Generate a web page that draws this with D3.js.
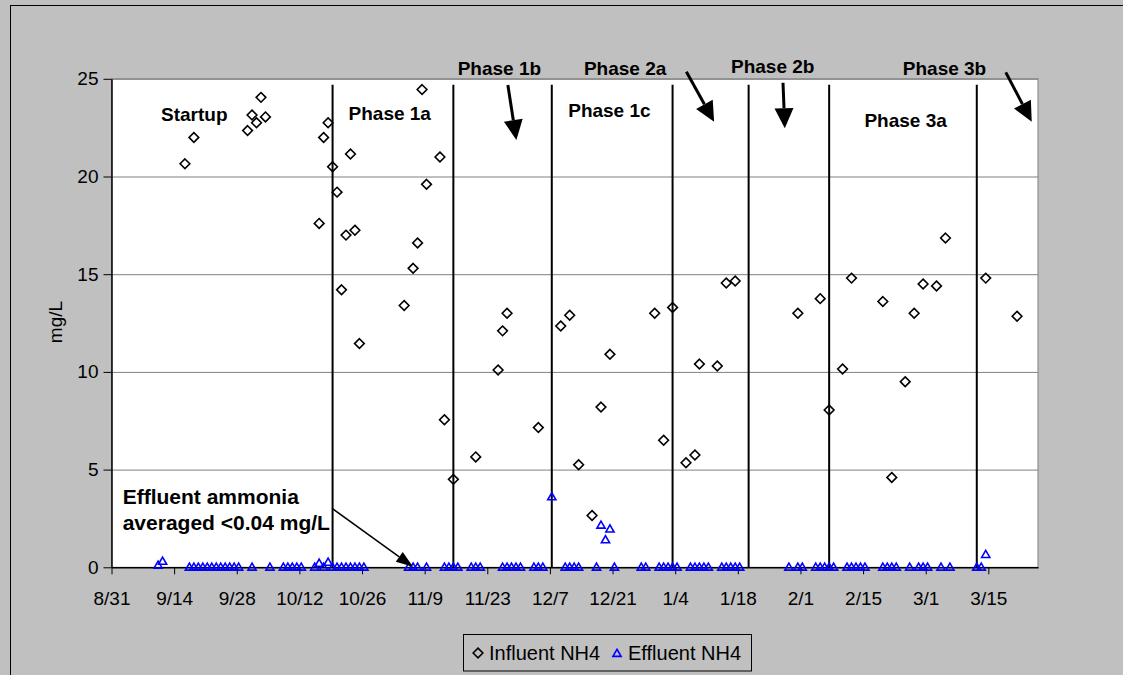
<!DOCTYPE html>
<html>
<head>
<meta charset="utf-8">
<script src="https://cdn.jsdelivr.net/npm/d3@7.9.0/dist/d3.min.js"></script>
<style>
  body { margin: 0; background: #c0c0c0; }
  svg { display: block; font-family: "Liberation Sans", Arial, sans-serif; }
</style>
</head>
<body>
<svg id="chart" width="1123" height="675"></svg>
<script>
// samples were logged mid-morning, so each point sits a bit right of its date tick
const SAMPLE_HOUR = 10;

const tickDates = ['8/31', '9/14', '9/28', '10/12', '10/26', '11/9', '11/23', '12/7',
  '12/21', '1/4', '1/18', '2/1', '2/15', '3/1', '3/15'];
const yTicks = [0, 5, 10, 15, 20, 25];

const influentDates = [
  '9/16', '9/18', '9/30', '10/1', '10/2', '10/3', '10/4',
  '10/16', '10/17', '10/18', '10/19', '10/20', '10/21', '10/22', '10/23', '10/24', '10/25',
  '11/4', '11/6', '11/7', '11/8', '11/9', '11/12', '11/13', '11/15', '11/20', '11/25', '11/26', '11/27',
  '12/4', '12/9', '12/11', '12/13', '12/16', '12/18', '12/20', '12/30',
  '1/1', '1/3', '1/6', '1/8', '1/9', '1/13', '1/15', '1/17', '1/31',
  '2/5', '2/7', '2/10', '2/12', '2/19', '2/21', '2/24', '2/26', '2/28',
  '3/3', '3/5', '3/14', '3/21'
];
const influentValues = [
  20.65, 22.0, 22.35, 23.15, 22.75, 24.05, 23.05,
  17.6, 22.0, 22.75, 20.5, 19.2, 14.2, 17.0, 21.15, 17.25, 11.45,
  13.4, 15.3, 16.6, 24.45, 19.6, 21.0, 7.55, 4.5, 5.65, 10.1, 12.1, 13.0,
  7.15, 12.35, 12.9, 5.25, 2.65, 8.2, 10.9, 13.0,
  6.5, 13.3, 5.35, 5.75, 10.4, 10.3, 14.55, 14.65, 13.0,
  13.75, 8.05, 10.15, 14.8, 13.6, 4.6, 9.5, 13.0, 14.5,
  14.4, 16.85, 14.8, 12.85
];

const effluentDates = [
  '9/10', '9/11', '9/17', '9/18', '9/19', '9/20', '9/21', '9/22', '9/23', '9/24', '9/25', '9/26', '9/27', '9/28',
  '10/1', '10/5', '10/8', '10/9', '10/10', '10/11', '10/12', '10/15', '10/16', '10/17', '10/18',
  '10/19', '10/20', '10/21', '10/22', '10/23', '10/24', '10/25', '10/26',
  '11/5', '11/6', '11/7', '11/9', '11/13', '11/14', '11/15', '11/16', '11/19', '11/20', '11/21',
  '11/26', '11/27', '11/28', '11/29', '11/30',
  '12/3', '12/4', '12/5', '12/7', '12/10', '12/11', '12/12', '12/13', '12/17', '12/18', '12/19', '12/20',
  '12/21', '12/27', '12/28', '12/31',
  '1/1', '1/2', '1/3', '1/4', '1/7', '1/8', '1/9', '1/10', '1/11', '1/14', '1/15', '1/16', '1/17', '1/18',
  '1/29', '1/31',
  '2/1', '2/4', '2/5', '2/6', '2/7', '2/8', '2/11', '2/12', '2/13', '2/14', '2/15', '2/19', '2/20', '2/21',
  '2/22', '2/25', '2/27', '2/28',
  '3/1', '3/4', '3/6', '3/12', '3/13', '3/14'
];
const effluentValues = [
  0.1, 0.3, 0, 0, 0, 0, 0, 0, 0, 0, 0, 0, 0, 0,
  0, 0, 0, 0, 0, 0, 0, 0, 0.2, 0, 0.25,
  0, 0, 0, 0, 0, 0, 0, 0,
  0, 0, 0, 0, 0, 0, 0, 0, 0, 0, 0,
  0, 0, 0, 0, 0,
  0, 0, 0, 3.6, 0, 0, 0, 0, 0, 2.15, 1.4, 1.95,
  0, 0, 0, 0,
  0, 0, 0, 0, 0, 0, 0, 0, 0, 0, 0, 0, 0, 0,
  0, 0,
  0, 0, 0, 0, 0, 0, 0, 0, 0, 0, 0, 0, 0, 0,
  0, 0, 0, 0,
  0, 0, 0, 0, 0, 0.65
];

// phase change dates (vertical lines)
const phaseDates = ['10/19', '11/15', '12/7', '1/3', '1/20', '2/7', '3/12'];

// annotations placed in chart units: days after 8/31 and mg/L
const phaseLabels = [
  { text: 'Startup', day: 18.5, val: 22.86 },
  { text: 'Phase 1a', day: 62.2, val: 22.87 },
  { text: 'Phase 1b', day: 86.7, val: 25.19 },
  { text: 'Phase 1c', day: 111.3, val: 23.06 },
  { text: 'Phase 2a', day: 114.8, val: 25.19 },
  { text: 'Phase 2b', day: 147.8, val: 25.31 },
  { text: 'Phase 3a', day: 177.5, val: 22.55 },
  { text: 'Phase 3b', day: 186.2, val: 25.19 }
];
const phaseArrows = [
  { from: [88.6, 24.68], to: [90.5, 21.87] },
  { from: [128.5, 25.36], to: [134.7, 22.8] },
  { from: [150.1, 24.8], to: [150.5, 22.47] },
  { from: [199.9, 25.33], to: [205.7, 22.8] }
];
const noteLines = ['Effluent ammonia', 'averaged <0.04 mg/L'];
const noteArrow = { from: [49.3, 3.02], to: [67.4, 0.03] };

const parseDay = (s) => {
  const [m, d] = s.split('/').map(Number);
  return new Date(Date.UTC(m >= 8 ? 2004 : 2005, m - 1, d));
};
const sampleTime = (s) => d3.utcHour.offset(parseDay(s), SAMPLE_HOUR);
const start = parseDay('8/31');
const dayToDate = (n) => new Date(+start + n * 864e5);

const margin = { left: 111.5, right: 1038, top: 78.8, bottom: 567.3 };

const x = d3.scaleUtc()
  .domain([start, dayToDate(207.1)])
  .range([margin.left, margin.right]);
const y = d3.scaleLinear().domain([0, 25]).range([margin.bottom, margin.top]);

const svg = d3.select('#chart');

// outer chart frame
svg.append('rect')
  .attr('x', 10.5).attr('y', 5.5)
  .attr('width', 1200).attr('height', 800)
  .attr('fill', '#c0c0c0').attr('stroke', '#000');

// plot area
svg.append('rect')
  .attr('x', margin.left).attr('y', margin.top)
  .attr('width', margin.right - margin.left).attr('height', margin.bottom - margin.top)
  .attr('fill', '#fff').attr('stroke', '#808080');

// gridlines
svg.append('g')
  .attr('transform', `translate(${margin.left},0)`)
  .call(d3.axisLeft(y).tickValues(yTicks.slice(1)).tickSize(-(margin.right - margin.left)).tickFormat(''))
  .call((g) => g.select('.domain').remove())
  .call((g) => g.selectAll('line').attr('stroke', '#808080'));

// phase lines
svg.append('g')
  .selectAll('line')
  .data(phaseDates)
  .join('line')
  .attr('x1', (d) => x(sampleTime(d)))
  .attr('x2', (d) => x(sampleTime(d)))
  .attr('y1', y(24.7))
  .attr('y2', y(0))
  .attr('stroke', '#000')
  .attr('stroke-width', 2);

// axes
const fmt = d3.utcFormat('%-m/%-d');
const xAxis = svg.append('g')
  .attr('transform', `translate(0,${margin.bottom})`)
  .call(d3.axisBottom(x).tickValues(tickDates.map(parseDay)).tickFormat(fmt)
    .tickSizeInner(7).tickSizeOuter(0).tickPadding(17));
xAxis.select('.domain').attr('stroke', '#000').attr('stroke-width', 1.5);
xAxis.selectAll('text').attr('font-size', 19).attr('font-family', 'Liberation Sans, Arial, sans-serif').attr('fill', '#000');

const yAxis = svg.append('g')
  .attr('transform', `translate(${margin.left},0)`)
  .call(d3.axisLeft(y).tickValues(yTicks).tickSizeInner(8).tickSizeOuter(0).tickPadding(5));
yAxis.select('.domain').attr('stroke', '#000').attr('stroke-width', 1.5);
yAxis.selectAll('text').attr('font-size', 19).attr('font-family', 'Liberation Sans, Arial, sans-serif').attr('fill', '#000');

svg.append('text')
  .attr('transform', 'translate(55,322) rotate(-90)')
  .attr('text-anchor', 'middle')
  .attr('dy', '0.35em')
  .attr('font-size', 19)
  .text('mg/L');

// markers
const diamond = d3.symbol().type(d3.symbolDiamond2).size(60);
const triangle = d3.symbol().type(d3.symbolTriangle2).size(48);

const influent = influentDates.map((d, i) => ({ date: sampleTime(d), value: influentValues[i] }));
const effluent = effluentDates.map((d, i) => ({ date: sampleTime(d), value: effluentValues[i] }));

svg.append('g')
  .selectAll('path')
  .data(influent)
  .join('path')
  .attr('d', diamond)
  .attr('transform', (d) => `translate(${x(d.date)},${y(d.value)})`)
  .attr('fill', 'none')
  .attr('stroke', '#000')
  .attr('stroke-width', 1.6);

svg.append('g')
  .selectAll('path')
  .data(effluent)
  .join('path')
  .attr('d', triangle)
  .attr('transform', (d) => `translate(${x(d.date)},${y(d.value) + 0.5})`)
  .attr('fill', 'none')
  .attr('stroke', '#0000ff')
  .attr('stroke-width', 1.6);

// annotations
function drawArrow(g, a, lineWidth, headLen, headWidth) {
  const x1 = x(dayToDate(a.from[0])), y1 = y(a.from[1]);
  const x2 = x(dayToDate(a.to[0])), y2 = y(a.to[1]);
  const len = Math.hypot(x2 - x1, y2 - y1);
  const ux = (x2 - x1) / len, uy = (y2 - y1) / len;
  const bx = x2 - ux * headLen, by = y2 - uy * headLen;
  g.append('line')
    .attr('x1', x1).attr('y1', y1).attr('x2', bx).attr('y2', by)
    .attr('stroke', '#000').attr('stroke-width', lineWidth);
  g.append('path')
    .attr('d', `M${x2},${y2}L${bx + uy * headWidth / 2},${by - ux * headWidth / 2}L${bx - uy * headWidth / 2},${by + ux * headWidth / 2}Z`)
    .attr('fill', '#000');
}

const notes = svg.append('g');
phaseArrows.forEach((a) => drawArrow(notes, a, 3, 20, 19));
drawArrow(notes, noteArrow, 1.5, 17, 12);

notes.selectAll('text.phase')
  .data(phaseLabels)
  .join('text')
  .attr('class', 'phase')
  .attr('x', (d) => x(dayToDate(d.day)))
  .attr('y', (d) => y(d.val))
  .attr('text-anchor', 'middle')
  .attr('font-size', 19)
  .attr('font-weight', 'bold')
  .text((d) => d.text);

notes.selectAll('text.note')
  .data(noteLines)
  .join('text')
  .attr('class', 'note')
  .attr('x', 122.7)
  .attr('y', (d, i) => 504 + i * 26)
  .attr('font-size', 21)
  .attr('font-weight', 'bold')
  .text((d) => d);

// legend
const legend = svg.append('g');
legend.append('rect')
  .attr('x', 463.5).attr('y', 634.5)
  .attr('width', 288).attr('height', 36.5)
  .attr('fill', 'none').attr('stroke', '#000');
legend.append('path')
  .attr('d', diamond)
  .attr('transform', 'translate(478,653)')
  .attr('fill', 'none').attr('stroke', '#000').attr('stroke-width', 1.6);
legend.append('text')
  .attr('x', 489).attr('y', 660)
  .attr('font-size', 20)
  .text('Influent NH4');
legend.append('path')
  .attr('d', triangle)
  .attr('transform', 'translate(617,654)')
  .attr('fill', 'none').attr('stroke', '#0000ff').attr('stroke-width', 1.6);
legend.append('text')
  .attr('x', 628).attr('y', 660)
  .attr('font-size', 20)
  .text('Effluent NH4');
</script>
</body>
</html>
